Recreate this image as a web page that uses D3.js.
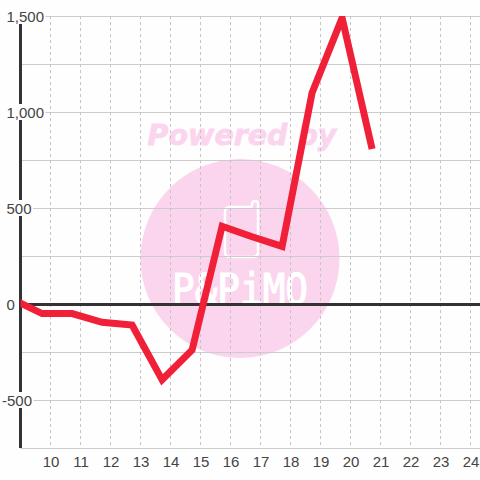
<!DOCTYPE html>
<html>
<head>
<meta charset="utf-8">
<script src="https://cdn.jsdelivr.net/npm/d3@7"></script>
<style>
  html, body { margin: 0; padding: 0; background: #fefefe; }
  svg { display: block; }
  text { font-family: "Liberation Sans", Arial, sans-serif; }
</style>
</head>
<body>
<script>
var svgWidth = 480;
var svgHeight = 480;

// values
var hours = [8.72, 9.72, 10.72, 11.72, 12.72, 13.72, 14.72, 15.72, 16.72, 17.72, 18.72, 19.72, 20.72];
var values = [25, -50, -50, -95, -110, -395, -240, 405, 350, 300, 1100, 1490, 807];
var xTicks = [10, 11, 12, 13, 14, 15, 16, 17, 18, 19, 20, 21, 22, 23, 24];
var yGrid = [-750, -500, -250, 0, 250, 500, 750, 1000, 1250, 1500];
var yLabels = [-500, 0, 500, 1000, 1500];

// Plot area
var plot = { top: 16, bottom: 448, left: 20.5, right: 480 };

var x = d3.scaleLinear().domain([9, 24]).range([plot.left, 470.5]);
var y = d3.scaleLinear().domain([-750, 1500]).range([plot.bottom, plot.top]);

var svg = d3.select("body").append("svg")
  .attr("width", svgWidth)
  .attr("height", svgHeight);

svg.append("defs").append("clipPath").attr("id", "plot-clip")
  .append("rect")
  .attr("x", plot.left)
  .attr("y", plot.top)
  .attr("width", plot.right - plot.left)
  .attr("height", plot.bottom - plot.top);

// Watermark sits under the grid
var mark = svg.append("g");
mark.append("circle")
  .attr("cx", 240).attr("cy", 258.5).attr("r", 99.5)
  .attr("fill", "#fbd5ee");
mark.append("text")
  .attr("x", 242).attr("y", 145)
  .attr("text-anchor", "middle")
  .attr("font-size", 28.5)
  .attr("font-weight", "bold")
  .attr("font-style", "italic")
  .style("font-family", "'DejaVu Sans'")
  .attr("fill", "#fbd5ee")
  .attr("stroke", "#fbd5ee")
  .attr("stroke-width", 0.8)
  .text("Powered by");
mark.append("path")
  .attr("d", "M225 212 Q225 207 230 207 L250 207 Q252 207 252 205 Q252 201 255 201 Q258 201 258 204 L258 252 Q258 257 253 257 L230 257 Q225 257 225 252 Z")
  .attr("fill", "none")
  .attr("stroke", "#fff")
  .attr("stroke-width", 2.5);
mark.append("text")
  .attr("x", 172).attr("y", 304)
  .attr("textLength", 136)
  .attr("lengthAdjust", "spacingAndGlyphs")
  .attr("font-size", 42)
  .style("font-family", "'DejaVu Sans Mono'")
  .attr("fill", "#fff")
  .attr("stroke", "#fff")
  .attr("stroke-width", 1.2)
  .text("P&PiMO");

// Grid
svg.append("g").selectAll("line")
  .data(yGrid)
  .enter().append("line")
  .attr("x1", plot.left).attr("x2", plot.right)
  .attr("y1", d => Math.round(y(d)) + 0.5)
  .attr("y2", d => Math.round(y(d)) + 0.5)
  .attr("stroke", "#cccccc")
  .attr("stroke-width", 1);

svg.append("g").selectAll("line")
  .data(xTicks)
  .enter().append("line")
  .attr("x1", d => x(d)).attr("x2", d => x(d))
  .attr("y1", plot.top).attr("y2", plot.bottom)
  .attr("stroke", "#c4c4c4")
  .attr("stroke-width", 1)
  .attr("stroke-dasharray", "3,3");

// Axis lines
svg.append("line")
  .attr("x1", plot.left).attr("x2", plot.left)
  .attr("y1", plot.top).attr("y2", plot.bottom)
  .attr("stroke", "#333333").attr("stroke-width", 3);
svg.append("line")
  .attr("x1", plot.left).attr("x2", plot.right)
  .attr("y1", y(0) + 0.5).attr("y2", y(0) + 0.5)
  .attr("stroke", "#333333").attr("stroke-width", 3);

// Series
var line = d3.line()
  .x((d, i) => x(hours[i]))
  .y(d => y(d));

svg.append("path")
  .datum(values)
  .attr("d", line)
  .attr("clip-path", "url(#plot-clip)")
  .attr("fill", "none")
  .attr("stroke", "#f02038")
  .attr("stroke-width", 7)
  .attr("stroke-linejoin", "miter");

// Tick labels
svg.append("g").selectAll("text")
  .data(xTicks)
  .enter().append("text")
  .attr("x", d => x(d) + 0.5)
  .attr("y", 467)
  .attr("text-anchor", "middle")
  .attr("font-size", 15)
  .attr("fill", "#444444")
  .text(d => d);

// y labels get a white box that knocks out the axis and grid behind them
var yLabelGroup = svg.append("g");
yLabels.forEach(function (v) {
  var t = yLabelGroup.append("text")
    .attr("x", v < 0 ? 2 : 6.5)
    .attr("y", y(v) + 5.5)
    .attr("font-size", 15)
    .attr("fill", "#444444")
    .text(d3.format(",")(v).replace("\u2212", "-"));
  var w = t.node().getComputedTextLength();
  yLabelGroup.insert("rect", "text")
    .attr("x", 0)
    .attr("y", y(v) - 8)
    .attr("width", (v < 0 ? 2 : 6.5) + w + 1.5)
    .attr("height", 16)
    .attr("fill", "#fefefe");
});
</script>
</body>
</html>
